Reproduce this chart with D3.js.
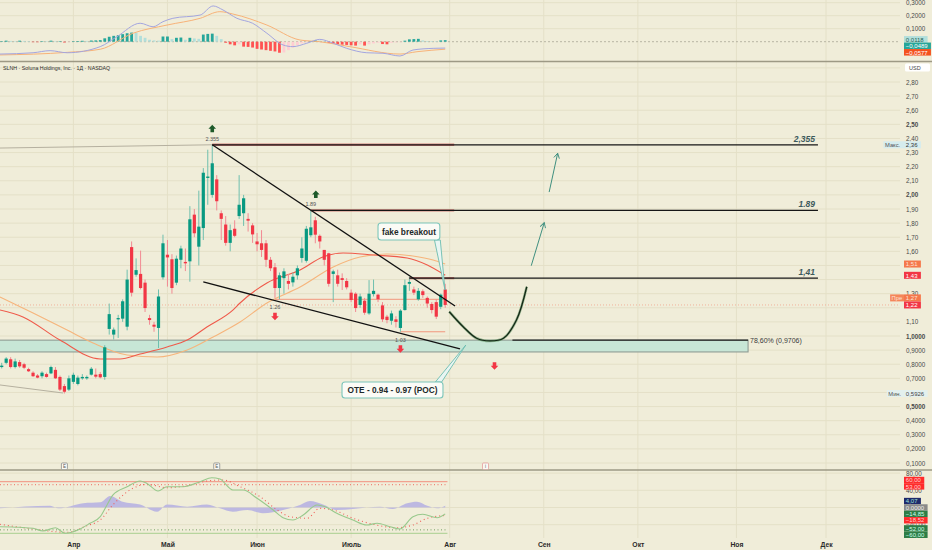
<!DOCTYPE html>
<html><head><meta charset="utf-8">
<script src="https://cdn.jsdelivr.net/npm/d3@7/dist/d3.min.js"></script>
<style>
html,body{margin:0;padding:0;background:#f0edd9;overflow:hidden}
svg{display:block;font-family:"Liberation Sans","DejaVu Sans",Arial,sans-serif}
</style></head><body>
<svg id="chart" width="932" height="550"></svg>
<script>
// ================= DATA =================
// daily candles [open, high, low, close]
const ohlc = [
[0.78,0.81,0.77,0.79],[0.81,0.85,0.80,0.84],[0.835,0.85,0.77,0.78],[0.78,0.84,0.77,0.82],[0.815,0.83,0.775,0.785],
[0.80,0.81,0.765,0.775],[0.765,0.775,0.745,0.75],[0.74,0.75,0.71,0.715],[0.72,0.73,0.70,0.705],[0.715,0.75,0.70,0.74],
[0.73,0.74,0.705,0.71],[0.735,0.79,0.73,0.78],[0.76,0.78,0.695,0.70],[0.71,0.72,0.61,0.62],[0.645,0.66,0.5926,0.605],
[0.62,0.72,0.61,0.70],[0.675,0.74,0.66,0.725],[0.66,0.72,0.65,0.705],[0.70,0.73,0.69,0.71],[0.70,0.72,0.69,0.71],
[0.726,0.78,0.72,0.768],[0.726,0.77,0.70,0.712],[0.73,0.745,0.70,0.707],[0.71,0.935,0.69,0.92],[1.05,1.23,1.01,1.155],
[1.01,1.06,0.975,1.045],[1.118,1.15,0.986,1.127],[1.123,1.26,1.10,1.246],[1.066,1.47,1.04,1.40],[1.63,1.67,1.28,1.307],
[1.434,1.55,1.42,1.467],[1.44,1.605,1.33,1.34],[1.378,1.40,1.17,1.198],[1.127,1.15,1.08,1.113],[1.08,1.10,1.03,1.066],
[1.057,1.33,0.915,1.28],[1.416,1.718,1.40,1.657],[1.576,1.68,1.35,1.557],[1.544,1.58,1.30,1.34],[1.378,1.57,1.36,1.548],
[1.54,1.64,1.48,1.62],[1.525,1.62,1.46,1.515],[1.529,1.92,1.385,1.827],[1.86,1.90,1.70,1.728],[1.633,2.03,1.50,1.775],
[1.765,2.19,1.68,2.157],[2.12,2.32,1.93,2.13],[2.00,2.355,1.98,2.224],[2.11,2.14,1.89,1.955],[1.87,1.89,1.68,1.83],
[1.79,1.85,1.64,1.66],[1.66,1.79,1.60,1.75],[1.76,1.82,1.70,1.71],[1.85,2.14,1.83,1.93],[1.87,2.0,1.78,1.976],
[1.83,1.87,1.74,1.817],[1.784,1.80,1.66,1.72],[1.67,1.73,1.60,1.65],[1.657,1.75,1.56,1.61],[1.657,1.68,1.49,1.54],
[1.54,1.56,1.46,1.48],[1.487,1.517,1.27,1.34],[1.34,1.45,1.26,1.43],[1.41,1.48,1.30,1.458],[1.39,1.44,1.33,1.37],
[1.38,1.45,1.35,1.42],[1.43,1.50,1.40,1.48],[1.553,1.70,1.52,1.62],[1.533,1.78,1.52,1.76],[1.714,1.89,1.70,1.77],
[1.82,1.845,1.657,1.718],[1.71,1.72,1.62,1.67],[1.61,1.61,1.50,1.54],[1.586,1.59,1.35,1.37],[1.44,1.47,1.24,1.458],
[1.43,1.47,1.35,1.37],[1.41,1.444,1.326,1.397],[1.39,1.41,1.33,1.345],[1.307,1.33,1.24,1.255],[1.30,1.31,1.17,1.198],
[1.22,1.30,1.20,1.28],[1.25,1.27,1.15,1.165],[1.16,1.396,1.15,1.30],[1.297,1.40,1.28,1.32],[1.293,1.30,1.24,1.26],
[1.217,1.24,1.10,1.118],[1.137,1.15,1.09,1.113],[1.108,1.18,1.08,1.16],[1.118,1.14,1.06,1.10],[1.057,1.19,1.03,1.18],
[1.184,1.40,1.18,1.36],[1.37,1.42,1.32,1.383],[1.33,1.35,1.29,1.307],[1.26,1.34,1.25,1.32],[1.317,1.33,1.27,1.29],
[1.27,1.28,1.20,1.23],[1.227,1.24,1.16,1.184],[1.24,1.26,1.12,1.137],[1.207,1.30,1.19,1.293],[1.33,1.37,1.20,1.22]
];
const monthLabels = ["Апр","Май","Июн","Июль","Авг","Сен","Окт","Ноя","Дек"];
const monthBars   = [16,37,57,78,100,121,142,164,184];

// moving averages [barIndex, value]
const maFast = [[-0.4,1.184],[4.75,1.135],[13,0.971],[22,0.837],[26.4,0.837],[30.9,0.872],[36.9,0.922],[41.4,0.971],[45.8,1.064],[51.6,1.184],[53.2,1.234],[59.2,1.376],[66.6,1.468],[71.7,1.56],[76.2,1.588],[82.9,1.574],[90.5,1.553],[95,1.503],[99,1.43]];
const maSlow = [[-0.4,1.276],[7,1.163],[14.6,1.042],[20.4,0.95],[28,0.865],[34.7,0.851],[41.4,0.901],[47.2,0.993],[53.2,1.099],[59.2,1.234],[66.6,1.347],[74,1.489],[80,1.56],[86,1.581],[91.8,1.567],[96.3,1.539],[99,1.51]];

// MACD panel
const macdLine = [[-0.4,-0.095],[7,-0.085],[10.8,-0.069],[14.6,-0.085],[22,-0.038],[25.7,0.038],[30.9,0.142],[33.8,0.115],[36,0.154],[38.2,0.18],[44.3,0.205],[47.2,0.275],[49.4,0.244],[52.5,0.18],[56,0.142],[59.2,0.065],[62.8,-0.025],[65,-0.038],[68.1,-0.012],[71,0.018],[74,-0.012],[77,-0.051],[81.5,-0.085],[85.1,-0.089],[88.9,-0.11],[91.8,-0.064],[96.3,-0.051],[99,-0.0489]];
const macdSignal = [[-0.4,-0.102],[14.6,-0.082],[22,-0.058],[29.3,0.065],[36.9,0.128],[44.3,0.18],[48.7,0.231],[51.6,0.213],[59.2,0.128],[66.6,0.013],[71,0],[77.7,-0.038],[88.9,-0.095],[92.7,-0.077],[99,-0.0577]];
const macdHist = [0.004,0.008,0.006,0.002,0.008,0.006,0.003,-0.002,-0.004,0.004,0.002,0.008,0.002,0.004,-0.006,-0.002,0.003,0.005,0.007,0.006,0.009,0.01,0.012,
0.026,0.038,0.045,0.05,0.058,0.065,0.07,0.068,0.045,0.03,0.015,0.01,0.008,0.04,0.04,0.02,0.03,0.032,0.015,0.03,0.025,0.022,0.055,0.06,0.062,0.045,0.02,
-0.008,-0.02,-0.028,-0.02,-0.038,-0.04,-0.045,-0.055,-0.06,-0.065,-0.07,-0.075,-0.085,-0.083,-0.065,-0.045,-0.028,-0.013,-0.005,
0.005,0.01,0.008,0.003,-0.008,-0.015,-0.02,-0.023,-0.025,-0.028,-0.03,-0.02,-0.03,-0.02,-0.013,-0.008,-0.018,-0.02,-0.008,-0.005,-0.003,0.008,0.018,0.02,0.022,0.01,0.005,0.004,0.003,0.01,0.0118];

// lower oscillator panel
const oscLine = [[-0.4,-44.7],[4,-46],[7,-48.4],[9.2,-54.7],[12,-47],[14.1,-60],[17.5,-50],[19.7,-36.7],[22,-21.4],[23.5,5.8],[24.8,29],[28,48.4],[30.9,61.6],[32.4,56],[34.9,38.4],[36.9,48.4],[40.5,48.4],[44.3,60],[46.9,69.3],[48.7,66.3],[51.6,40.7],[53.9,40.7],[57,21.4],[60.6,-5.8],[62.8,-23.7],[65,-29],[67.3,-17.4],[70.4,5.8],[72.2,1.9],[74.8,-13.5],[78.4,-29],[81.5,-40.7],[83.8,-36.7],[86.7,-44.7],[88.9,-50],[91.8,-21.4],[94,-15.8],[97.2,-23.7],[99,-14.85]];
const oscSignal = [[-0.4,-39],[7,-50],[14.6,-57.7],[19,-42.3],[22,-29],[24.8,5.8],[29.3,44.7],[32.4,54],[36.9,46],[41.4,50.7],[45.8,61.6],[49.4,64],[53.2,48.4],[57.7,25],[61.5,-5.8],[64.4,-21.4],[68.2,-25],[71,-1.9],[74,-5.8],[78.4,-25],[82.9,-39],[88.2,-47],[91.8,-40.7],[95,-25],[99,-18.52]];
const oscArea = [[-0.4,-2],[10.8,4],[12.6,-2],[18.2,10],[22,12],[24.2,27],[27,13.5],[30.9,7],[34.7,-10],[36.9,7],[41.4,2],[45.8,7],[48.7,-2],[51.6,-10],[54.8,-6],[58.3,-13.5],[62.8,-6],[66.6,6],[68.8,15],[71.7,7],[74.8,-6],[78.4,-3.5],[81.5,0],[84.4,2],[87.3,-3.5],[90.5,10],[92.7,13.5],[95,4],[97.2,-2],[99,4.07]];
const oscLevels = [[60,"#f2917f",null],[53,"#f06a5e","1,2.5"],[-52,"#6f9f5f","1,2.5"],[-60,"#a9cf8f",null]];

// axis ticks
const priceTicks = [2.8,2.7,2.6,2.5,2.4,2.3,2.2,2.1,2.0,1.9,1.8,1.7,1.6,1.3,1.1,1.0,0.9,0.8,0.7,0.5,0.4,0.3,0.2,0.1];
const boldTicks  = [2.5,2.0,1.0,0.5];
const macdTicks  = [0.3,0.2,0.1];
const oscTicks   = [80,40,-40];

// right-axis value tags
const priceTags = [{v:2.355,t:"2,36",bg:"#d5ecee",fg:"#333",pre:"Макс."},{v:1.51,t:"1,51",bg:"#f5784c",fg:"#fde2d8"},{v:1.43,t:"1,43",bg:"#f23645",fg:"#fff"},{v:1.27,t:"1,27",bg:"#f5784c",fg:"#fde2d8",pre:"Пре",preBg:"#f5865a"},{v:1.22,t:"1,22",bg:"#f23645",fg:"#fff"},{v:0.5926,t:"0,5926",bg:"#e3f0ee",fg:"#444",pre:"Мин."}];
const macdTags = [{v:0.0118,t:"0,0118",bg:"#b2dfdb",fg:"#1e5f57"},{v:-0.0489,t:"−0,0489",bg:"#26a69a",fg:"#fff"},{v:-0.0577,t:"−0,0577",bg:"#f4511e",fg:"#fff"}];
const oscTags = [{v:60,t:"60,00",bg:"#ff2b2b",fg:"#ffd0d0"},{v:53,t:"53,00",bg:"#ff2b2b",fg:"#ffd0d0"},{v:4.07,t:"4,07",bg:"#1f2a6b",fg:"#9ee0d8"},{v:0,t:"0,0000",bg:"#8a8a8a",fg:"#eee"},{v:-14.85,t:"−14,85",bg:"#2e7d46",fg:"#cfe"},{v:-18.52,t:"−18,52",bg:"#ff2b2b",fg:"#ffd0d0"},{v:-52,t:"−52,00",bg:"#2e7d46",fg:"#cfe"},{v:-60,t:"−60,00",bg:"#2e7d46",fg:"#cfe"}];

// drawings
const targets = [{v:2.355,from:47,label:"2,355"},{v:1.89,from:69,label:"1.89"},{v:1.41,from:91,label:"1,41"}];
const targetEnd = 182.2;
const pivotHighs = [[47,2.355,"2.355"],[69,1.89,"1.89"]];
const pivotLows  = [[61,1.26,"1.26"],[89,1.03,"1.03"]];
const extraDown  = [[110,0.79]];
const wedgeLines = [[[47,2.355],[101.2,1.213]],[[45,1.383],[102.3,0.908]]];
const greyLines  = [[[-0.4,2.332],[47,2.355]],[[-0.4,0.653],[13.7,0.596]]];
const pivotRays  = [[61,99,1.26],[89,99,1.03]];
const oteZone = {top:0.9706, bottom:0.887, from:-1, to:166.6};
const fibLevel = {v:0.9706, from:114, to:166.6, label:"78,60% (0,9706)"};
const projCurve = [[99.9,1.172],[103,1.066],[106,0.984],[109,0.965],[112,0.984],[114.9,1.113],[117.2,1.349]];
const projArrows = [[[118.2,1.498],[121.1,1.803]],[[122.2,2.02],[124.1,2.295]]];
const callouts = [
  {text:"fake breakout", i0:84, i1:97.8, vTop:1.8008, vBot:1.6803, base:[[96.6,1.6803],[97.9,1.6803]], tip:[98.95,1.326]},
  {text:"OTE - 0.94 - 0.97 (POC)", i0:75.96, i1:98.5, vTop:0.674, vBot:0.5606, base:[[96.8,0.674],[98.2,0.674]], tip:[103.6,0.936]}
];
const earnings = [[14,"E","#8b8b8b"],[48,"E","#8b8b8b"],[108,"i","#e59a9a"]];
const lastClose = 1.22;
const title = "SLNH · Soluna Holdings, Inc. · 1Д · NASDAQ";

// ================= SCALES =================
const W=932, H=550;
const BG="#f0edd9", GRID="#e4e0c7";
const svg = d3.select("#chart");
const x  = d3.scaleLinear().domain([0,184]).range([1.7, 1.7+184*4.48]);
const y  = d3.scaleLinear().domain([0.1,2.8]).range([463,82]);
const yM = d3.scaleLinear().domain([0,0.3]).range([41.7,2.7]);
const yR = d3.scaleLinear().domain([-60,80]).range([533.3,473.1]);
const fmt = (v,d)=>d3.format(`.${d}f`)(v).replace(".",",").replace("-","−");

svg.append("rect").attr("width",W).attr("height",H).attr("fill",BG);

const defs = svg.append("defs");
function clip(id,x0,y0,w,h){defs.append("clipPath").attr("id",id).append("rect").attr("x",x0).attr("y",y0).attr("width",w).attr("height",h);}
clip("cM",0,0,900,60.5); clip("cP",0,62.5,900,407); clip("cR",0,471,900,67);
defs.append("marker").attr("id","arr").attr("viewBox","0 0 10 10").attr("refX",8).attr("refY",5)
  .attr("markerWidth",7).attr("markerHeight",7).attr("orient","auto-start-reverse")
  .append("path").attr("d","M1,1 L8,5 L1,9").attr("fill","none").attr("stroke","#3f8f7f").attr("stroke-width",1.3);

// ================= GRID =================
const grid = svg.append("g");
grid.selectAll(".vg").data(monthBars).join("line")
  .attr("x1",d=>x(d)).attr("x2",d=>x(d)).attr("y1",0).attr("y2",538).attr("stroke",GRID).attr("stroke-width",1);
grid.selectAll(".hg").data(d3.range(1,30).map(k=>k/10)).join("line")
  .attr("x1",0).attr("x2",900).attr("y1",d=>y(d)).attr("y2",d=>y(d)).attr("stroke",GRID);
grid.selectAll(".mg").data(macdTicks).join("line")
  .attr("x1",0).attr("x2",900).attr("y1",d=>yM(d)).attr("y2",d=>yM(d)).attr("stroke",GRID);
grid.selectAll(".rg").data(oscTicks.concat([0])).join("line")
  .attr("x1",0).attr("x2",900).attr("y1",d=>yR(d)).attr("y2",d=>yR(d)).attr("stroke",GRID);

// panel separators
[61.5,470].forEach(v=>svg.append("line").attr("x1",0).attr("x2",W).attr("y1",v).attr("y2",v).attr("stroke","#9d9985").attr("stroke-width",1.6));

// ================= MACD PANEL =================
const gM = svg.append("g").attr("clip-path","url(#cM)");
gM.append("line").attr("x1",0).attr("x2",900).attr("y1",yM(0)).attr("y2",yM(0))
  .attr("stroke","#a9a697").attr("stroke-dasharray","2,2").attr("stroke-width",0.8);
gM.selectAll(".h").data(macdHist).join("rect")
  .attr("x",(d,i)=>x(i)-1.4).attr("width",2.8)
  .attr("y",d=>Math.min(yM(d),yM(0))).attr("height",d=>Math.max(0.5,Math.abs(yM(d)-yM(0))))
  .attr("fill",(d,i)=>{const p=i>0?macdHist[i-1]:d; return d>=0?(d>=p?"#26a69a":"#b2dfdb"):(d<p?"#ff5252":"#ffcdd2");});
const lineM = d3.line().x(d=>x(d[0])).y(d=>yM(d[1])).curve(d3.curveMonotoneX);
gM.append("path").attr("d",lineM(macdSignal)).attr("fill","none").attr("stroke","#f7b278").attr("stroke-width",1);
gM.append("path").attr("d",lineM(macdLine)).attr("fill","none").attr("stroke","#a3a5df").attr("stroke-width",1);

// ================= MAIN PANEL =================
const gP = svg.append("g").attr("clip-path","url(#cP)");
// OTE zone
gP.append("rect").attr("x",x(oteZone.from)).attr("width",x(oteZone.to)-x(oteZone.from))
  .attr("y",y(oteZone.top)).attr("height",y(oteZone.bottom)-y(oteZone.top))
  .attr("fill","#c7e6d6").attr("stroke","#8f9c94").attr("stroke-width",1.1);
// last price line
gP.append("line").attr("x1",0).attr("x2",900).attr("y1",y(lastClose)).attr("y2",y(lastClose))
  .attr("stroke","#f3a48a").attr("stroke-dasharray","1,2").attr("stroke-width",0.8);
// grey reference lines
gP.selectAll(".gl").data(greyLines).join("line")
  .attr("x1",d=>x(d[0][0])).attr("y1",d=>y(d[0][1])).attr("x2",d=>x(d[1][0])).attr("y2",d=>y(d[1][1]))
  .attr("stroke","#b5b09f").attr("stroke-width",1);
// MAs
const lineP = d3.line().x(d=>x(d[0])).y(d=>y(d[1])).curve(d3.curveMonotoneX);
gP.append("path").attr("d",lineP(maSlow)).attr("fill","none").attr("stroke","#f6b57c").attr("stroke-width",1.1);
gP.append("path").attr("d",lineP(maFast)).attr("fill","none").attr("stroke","#ef5a4a").attr("stroke-width",1.1);
// pivot rays
gP.selectAll(".pr").data(pivotRays).join("line")
  .attr("x1",d=>x(d[0])).attr("x2",d=>x(d[1])).attr("y1",d=>y(d[2])).attr("y2",d=>y(d[2]))
  .attr("stroke","#f2977c").attr("stroke-width",1);
// candles
const up = d=>d[3]>=d[0];
gP.selectAll(".wk").data(ohlc).join("line")
  .attr("x1",(d,i)=>x(i)).attr("x2",(d,i)=>x(i)).attr("y1",d=>y(d[1])).attr("y2",d=>y(d[2]))
  .attr("stroke",d=>up(d)?"#6fbfae":"#f28a93").attr("stroke-width",1);
gP.selectAll(".bd").data(ohlc).join("rect")
  .attr("x",(d,i)=>x(i)-1.6).attr("width",3.2)
  .attr("y",d=>y(Math.max(d[0],d[3]))).attr("height",d=>Math.max(0.9,Math.abs(y(d[0])-y(d[3]))))
  .attr("fill",d=>up(d)?"#089981":"#f23645");
// target levels
gP.selectAll(".tu").data(targets).join("line")
  .attr("x1",d=>x(d.from)).attr("x2",x(101)).attr("y1",d=>y(d.v)).attr("y2",d=>y(d.v))
  .attr("stroke","#b3262b").attr("stroke-width",2.4).attr("opacity",0.55);
gP.selectAll(".tl").data(targets).join("line")
  .attr("x1",d=>x(d.from)).attr("x2",x(targetEnd)).attr("y1",d=>y(d.v)).attr("y2",d=>y(d.v))
  .attr("stroke","#161616").attr("stroke-width",1.3);
gP.selectAll(".tt").data(targets).join("text")
  .attr("x",x(targetEnd)-3).attr("y",d=>y(d.v)-3).attr("text-anchor","end")
  .attr("font-size",8.5).attr("font-style","italic").attr("font-weight","bold").attr("fill","#3d5a5c").text(d=>d.label);
// fib level
gP.append("line").attr("x1",x(fibLevel.from)).attr("x2",x(fibLevel.to)).attr("y1",y(fibLevel.v)).attr("y2",y(fibLevel.v))
  .attr("stroke","#1c1c1c").attr("stroke-width",1.1);
gP.append("text").attr("x",x(fibLevel.to)+2).attr("y",y(fibLevel.v)+2.5).attr("font-size",7).attr("fill","#3a3a3a").text(fibLevel.label);
// wedge lines
gP.selectAll(".wl").data(wedgeLines).join("line")
  .attr("x1",d=>x(d[0][0])).attr("y1",d=>y(d[0][1])).attr("x2",d=>x(d[1][0])).attr("y2",d=>y(d[1][1]))
  .attr("stroke","#111").attr("stroke-width",1.3);
// projection curve
gP.append("path").attr("d",d3.line().x(d=>x(d[0])).y(d=>y(d[1])).curve(d3.curveCatmullRom)(projCurve))
  .attr("fill","none").attr("stroke","#5b8f5e").attr("stroke-width",2.6).attr("opacity",0.6);
gP.append("path").attr("d",d3.line().x(d=>x(d[0])).y(d=>y(d[1])).curve(d3.curveCatmullRom)(projCurve))
  .attr("fill","none").attr("stroke","#142816").attr("stroke-width",1.3);
// projection arrows
gP.selectAll(".pa").data(projArrows).join("line")
  .attr("x1",d=>x(d[0][0])).attr("y1",d=>y(d[0][1])).attr("x2",d=>x(d[1][0])).attr("y2",d=>y(d[1][1]))
  .attr("stroke","#3f8f7f").attr("stroke-width",1).attr("marker-end","url(#arr)");
// pivot markers
function upArrow(g,cx,cy,col){g.append("path").attr("d",`M${cx},${cy-4} L${cx+3.8},${cy} L${cx+1.8},${cy} L${cx+1.8},${cy+3.5} L${cx-1.8},${cy+3.5} L${cx-1.8},${cy} L${cx-3.8},${cy} Z`).attr("fill",col);}
function dnArrow(g,cx,cy,col){g.append("path").attr("d",`M${cx},${cy+4} L${cx+3.8},${cy} L${cx+1.8},${cy} L${cx+1.8},${cy-3.5} L${cx-1.8},${cy-3.5} L${cx-1.8},${cy} L${cx-3.8},${cy} Z`).attr("fill",col);}
pivotHighs.forEach(d=>{
  gP.append("text").attr("x",x(d[0])).attr("y",y(d[1])-4).attr("text-anchor","middle").attr("font-size",5.5).attr("fill","#555").text(d[2]);
  upArrow(gP,x(d[0])+(d[0]===69?5:0),y(d[1])-16,"#1e5a2a");
});
pivotLows.forEach(d=>{
  gP.append("text").attr("x",x(d[0])).attr("y",y(d[1])+10).attr("text-anchor","middle").attr("font-size",5.5).attr("fill","#555").text(d[2]);
  dnArrow(gP,x(d[0]),y(d[1])+17,"#f23645");
});
extraDown.forEach(d=>dnArrow(gP,x(d[0]),y(d[1]),"#f23645"));
// callouts
callouts.forEach(c=>{
  const tip=[x(c.tip[0]),y(c.tip[1])];
  const b0=[x(c.base[0][0]),y(c.base[0][1])], b1=[x(c.base[1][0]),y(c.base[1][1])];
  gP.append("path").attr("d",`M${b0[0]},${b0[1]} L${tip[0]},${tip[1]} L${b1[0]},${b1[1]} Z`)
    .attr("fill","#e9f5f2").attr("stroke","#6bbcb0").attr("stroke-width",0.9);
  const bx=x(c.i0), by=y(c.vTop), bw=x(c.i1)-x(c.i0), bh=y(c.vBot)-y(c.vTop);
  gP.append("rect").attr("x",bx).attr("y",by).attr("width",bw).attr("height",bh).attr("rx",3)
    .attr("fill","#fbfbf6").attr("stroke","#7cc6ba").attr("stroke-width",1.1);
  gP.append("text").attr("x",bx+bw/2).attr("y",by+bh/2+3).attr("text-anchor","middle")
    .attr("font-size",8.3).attr("font-weight","bold").attr("fill","#1d2929").text(c.text);
});
// earnings flags
earnings.forEach(e=>{
  gP.append("rect").attr("x",x(e[0])-3).attr("y",463).attr("width",6).attr("height",6.5).attr("rx",1)
    .attr("fill","#fafaf5").attr("stroke",e[2]).attr("stroke-width",0.8);
  gP.append("text").attr("x",x(e[0])).attr("y",468.2).attr("text-anchor","middle").attr("font-size",4.5).attr("fill","#555").text(e[1]);
});
svg.append("text").attr("x",3).attr("y",69.5).attr("font-size",5.3).attr("fill","#2b2b2b").text(title);

// ================= OSC PANEL =================
const gR = svg.append("g").attr("clip-path","url(#cR)");
gR.append("path").attr("d",d3.area().x(d=>x(d[0])).y0(yR(0)).y1(d=>yR(d[1])).curve(d3.curveMonotoneX)(oscArea))
  .attr("fill","#b9b5e2").attr("opacity",0.95);
gR.selectAll(".lv").data(oscLevels).join("line")
  .attr("x1",0).attr("x2",x(99.5)).attr("y1",d=>yR(d[0])).attr("y2",d=>yR(d[0]))
  .attr("stroke",d=>d[1]).attr("stroke-dasharray",d=>d[2]).attr("stroke-width",1);
const lineR = d3.line().x(d=>x(d[0])).y(d=>yR(d[1])).curve(d3.curveMonotoneX);
gR.append("path").attr("d",lineR(oscSignal)).attr("fill","none").attr("stroke","#f0605a").attr("stroke-width",1.1).attr("stroke-dasharray","1,3");
gR.append("path").attr("d",lineR(oscLine)).attr("fill","none").attr("stroke","#98c98c").attr("stroke-width",1.1);

// ================= AXES =================
function styleAxis(g,size,bold){
  g.select(".domain").remove();
  g.attr("font-family",null).attr("font-size",null);
  g.selectAll("text").attr("font-size",size).attr("fill","#4a4a4a")
    .attr("font-weight",d=>bold&&bold.includes(d)?"bold":null);
}
const fmtP = d=> d>=1.05? fmt(d,2) : fmt(d,4);
styleAxis(svg.append("g").attr("transform","translate(903,0)")
  .call(d3.axisRight(y).tickValues(priceTicks).tickSize(0).tickPadding(3).tickFormat(fmtP)),6.3,boldTicks);
styleAxis(svg.append("g").attr("transform","translate(903,0)")
  .call(d3.axisRight(yM).tickValues(macdTicks).tickSize(0).tickPadding(3).tickFormat(d=>fmt(d,4))),6.3);
styleAxis(svg.append("g").attr("transform","translate(903,0)")
  .call(d3.axisRight(yR).tickValues(oscTicks).tickSize(0).tickPadding(3).tickFormat(d=>fmt(d,2))),6.3);
const ta = svg.append("g").attr("transform","translate(0,538)")
  .call(d3.axisBottom(x).tickValues(monthBars).tickSize(0).tickPadding(4).tickFormat((d,i)=>monthLabels[i]));
styleAxis(ta,6.8);
ta.selectAll("text").attr("font-weight","bold").attr("fill","#2a2a2a");

// USD box
svg.append("rect").attr("x",905).attr("y",63.5).attr("width",25).attr("height",8).attr("rx",1.5).attr("fill","#fff");
svg.append("text").attr("x",909).attr("y",69.6).attr("font-size",5.5).attr("fill","#444").text("USD");

// value tags with collision spreading
function drawTags(tags,yS,gap){
  const items = tags.map(t=>Object.assign({},t,{yd:yS(t.v)})).sort((a,b)=>a.yd-b.yd);
  let cl = items.map(d=>({items:[d],mean:d.yd}));
  const top = c=>c.mean-(c.items.length-1)*gap/2;
  let merged=true;
  while(merged){merged=false;
    for(let k=0;k<cl.length-1;k++){
      const a=cl[k],b=cl[k+1];
      if(top(a)+a.items.length*gap>top(b)+0.01){
        const its=a.items.concat(b.items);
        cl.splice(k,2,{items:its,mean:d3.mean(its,d=>d.yd)}); merged=true; break;
      }
    }
  }
  cl.forEach(c=>c.items.forEach((d,j)=>d.yp=top(c)+j*gap));
  const g=svg.append("g");
  items.forEach(d=>{
    const w=d.t.length*3.35+3.5;
    if(d.pre){
      const pw=d.pre.length*3.3+3;
      g.append("rect").attr("x",904-pw-1).attr("y",d.yp-gap/2).attr("width",pw+1).attr("height",gap)
        .attr("fill",d.preBg||d.bg);
      g.append("text").attr("x",904-pw+0.5).attr("y",d.yp+2.1).attr("font-size",5.8).attr("fill",d.preBg?"#fde2d8":"#555").text(d.pre);
    }
    g.append("rect").attr("x",904).attr("y",d.yp-gap/2).attr("width",w).attr("height",gap).attr("fill",d.bg);
    g.append("text").attr("x",905.8).attr("y",d.yp+2.2).attr("font-size",6).attr("fill",d.fg).text(d.t);
  });
}
drawTags(priceTags,y,7);
drawTags(macdTags,yM,6.5);
drawTags(oscTags,yR,6.4);
</script>
</body></html>
